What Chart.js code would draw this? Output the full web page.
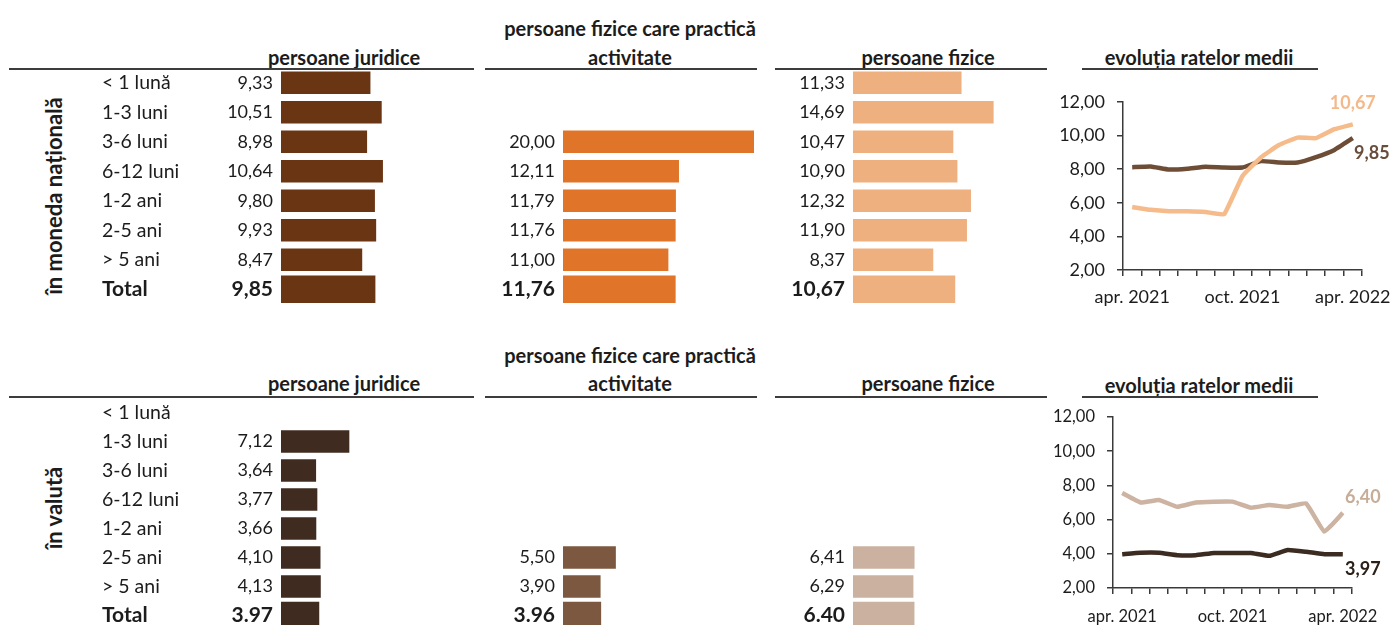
<!DOCTYPE html>
<html>
<head>
<meta charset="utf-8">
<script src="https://cdn.jsdelivr.net/npm/chart.js@4/dist/chart.umd.min.js"></script>
<style>
  html, body { margin: 0; padding: 0; background: #fff; overflow: hidden; }
  #wrap { position: relative; width: 1395px; height: 625px; overflow: hidden; font-family: Lato, "Open Sans", sans-serif; color: #1c1c1c; }
  canvas { position: absolute; }
  .hdr { position: absolute; width: 340px; margin-left: -170px; margin-top: -12px; line-height: 24px; text-align: center; font-weight: bold; font-size: 20px; white-space: nowrap; }
  .rule { position: absolute; height: 2px; background: #3c3c3c; }
  .side { position: absolute; font-weight: bold; font-size: 22px; white-space: nowrap; transform: translate(-50%, -50%) rotate(-90deg); }
</style>
</head>
<body>
<div id="wrap">
  <!-- sectiunea MDL -->
  <div class="hdr" style="left:344px;top:57px">persoane juridice</div>
  <div class="hdr" style="left:630px;top:28px">persoane fizice care practică</div>
  <div class="hdr" style="left:630px;top:57px">activitate</div>
  <div class="hdr" style="left:928px;top:57px">persoane fizice</div>
  <div class="hdr" style="left:1199px;top:57px">evoluția ratelor medii</div>
  <div class="rule" style="left:9px;width:465px;top:68px"></div>
  <div class="rule" style="left:485px;width:272px;top:68px"></div>
  <div class="rule" style="left:775px;width:272px;top:68px"></div>
  <div class="rule" style="left:1082px;width:236px;top:68px"></div>
  <div class="side" style="left:53px;top:196px">în moneda națională</div>

  <!-- sectiunea valuta -->
  <div class="hdr" style="left:344px;top:383px">persoane juridice</div>
  <div class="hdr" style="left:630px;top:355px">persoane fizice care practică</div>
  <div class="hdr" style="left:630px;top:383px">activitate</div>
  <div class="hdr" style="left:928px;top:383px">persoane fizice</div>
  <div class="hdr" style="left:1199px;top:385px">evoluția ratelor medii</div>
  <div class="rule" style="left:9px;width:465px;top:396px"></div>
  <div class="rule" style="left:485px;width:272px;top:396px"></div>
  <div class="rule" style="left:775px;width:272px;top:396px"></div>
  <div class="rule" style="left:1082px;width:236px;top:396px"></div>
  <div class="side" style="left:53px;top:508px">în valută</div>

  <canvas id="mdl-jur" width="370" height="236" style="left:102px;top:68px"></canvas>
  <canvas id="mdl-act" width="274" height="236" style="left:480px;top:68px"></canvas>
  <canvas id="mdl-fiz" width="274" height="236" style="left:770px;top:68px"></canvas>
  <canvas id="mdl-evol" width="355" height="220" style="left:1040px;top:90px"></canvas>

  <canvas id="val-jur" width="370" height="232" style="left:102px;top:398px"></canvas>
  <canvas id="val-act" width="274" height="232" style="left:480px;top:398px"></canvas>
  <canvas id="val-fiz" width="274" height="232" style="left:770px;top:398px"></canvas>
  <canvas id="val-evol" width="355" height="225" style="left:1030px;top:400px"></canvas>
</div>

<script>
// termene de scadenta
const termene = ["< 1 lună", "1-3 luni", "3-6 luni", "6-12 luni", "1-2 ani", "2-5 ani", "> 5 ani", "Total"];

// rate medii, moneda nationala (%)
const mdlJuridice   = [9.33, 10.51, 8.98, 10.64, 9.80, 9.93, 8.47, 9.85];
const mdlActivitate = [null, null, 20.00, 12.11, 11.79, 11.76, 11.00, 11.76];
const mdlFizice     = [11.33, 14.69, 10.47, 10.90, 12.32, 11.90, 8.37, 10.67];

// rate medii, valuta (%)
const valJuridice   = [null, 7.12, 3.64, 3.77, 3.66, 4.10, 4.13, 3.97];
const valActivitate = [null, null, null, null, null, 5.50, 3.90, 3.96];
const valFizice     = [null, null, null, null, null, 6.41, 6.29, 6.40];

// evolutia ratelor medii, apr. 2021 - apr. 2022
const luni = ["apr. 2021", "mai 2021", "iun. 2021", "iul. 2021", "aug. 2021", "sept. 2021", "oct. 2021",
              "nov. 2021", "dec. 2021", "ian. 2022", "febr. 2022", "mar. 2022", "apr. 2022"];
const evolMdlJuridice = [8.12, 8.16, 7.98, 8.03, 8.15, 8.10, 8.10, 8.48, 8.40, 8.40, 8.72, 9.15, 9.85];
const evolMdlFizice   = [5.75, 5.58, 5.50, 5.50, 5.45, 5.32, 7.60, 8.70, 9.45, 9.88, 9.85, 10.38, 10.67];
const evolValJuridice = [3.98, 4.06, 4.06, 3.92, 3.92, 4.05, 4.05, 4.05, 3.88, 4.22, 4.12, 3.98, 3.97];
const evolValFizice   = [7.55, 7.00, 7.15, 6.75, 7.00, 7.05, 7.05, 6.70, 6.85, 6.75, 6.95, 5.30, 6.40];

const FONT = 'Lato, "Open Sans", sans-serif';
const TEXT = "#1c1c1c";
const AXIS = "#3a3a3a";

const fmt = (v, sep) => v.toFixed(2).replace(".", sep);
const last = termene.length - 1;

// fara spatiu suplimentar sus/jos pentru etichete, ca randurile sa umple zona
const noVertPad = s => { s.paddingTop = 0; s.paddingBottom = 0; };

function barChart(id, values, color, opts) {
  const rows  = values.map((v, i) => (i === last ? null : v));
  const total = values.map((v, i) => (i === last ? v : null));
  const valueLabels = values.map((v, i) => (v == null ? "" : fmt(v, i === last ? opts.totalSep : ",")));

  const scales = {
    y: {
      type: "category",
      labels: valueLabels,
      position: "left",
      weight: 0,
      offset: true,
      grid: { display: false, drawTicks: false },
      border: { display: false },
      ticks: {
        autoSkip: false,
        padding: 8,
        color: TEXT,
        font: c => (c.index === last ? { family: FONT, size: 21, weight: "bold" } : { family: FONT, size: 18 })
      },
      afterFit: s => { s.width = opts.names ? 90 : 83; noVertPad(s); }
    },
    x: { type: "linear", display: false, min: 0, max: 20 }
  };
  if (opts.names) {
    scales.nume = {
      type: "category",
      labels: termene,
      position: "left",
      weight: 1,
      offset: true,
      grid: { display: false, drawTicks: false },
      border: { display: false },
      ticks: {
        autoSkip: false,
        crossAlign: "far",
        color: TEXT,
        font: c => (c.index === last ? { family: FONT, size: 21, weight: "bold" } : { family: FONT, size: 19.5 })
      },
      afterFit: s => { s.width = 89; noVertPad(s); }
    };
  }

  new Chart(document.getElementById(id), {
    type: "bar",
    data: {
      datasets: [
        { data: rows, yAxisID: "y", backgroundColor: color, barThickness: 22, grouped: false },
        { data: total, yAxisID: "y", backgroundColor: color, barThickness: 27, grouped: false }
      ]
    },
    options: {
      indexAxis: "y",
      responsive: false,
      animation: false,
      layout: { padding: 0 },
      plugins: { legend: { display: false }, tooltip: { enabled: false } },
      scales: scales
    }
  });
}

// eticheta valorii finale langa fiecare linie
const endLabels = {
  id: "endLabels",
  afterDatasetsDraw(chart) {
    const ctx = chart.ctx;
    chart.data.datasets.forEach((ds, i) => {
      const lbl = ds.endLabel;
      if (!lbl) return;
      const pts = chart.getDatasetMeta(i).data;
      const p = pts[pts.length - 1];
      ctx.save();
      ctx.font = "bold 18px " + FONT;
      ctx.fillStyle = lbl.color;
      ctx.textAlign = "center";
      ctx.textBaseline = "middle";
      ctx.fillText(fmt(ds.data[ds.data.length - 1], ","), p.x + lbl.dx, p.y + lbl.dy);
      ctx.restore();
    });
  }
};

function lineChart(id, series, cfg) {
  const tickFont = { family: FONT, size: cfg.fontSize };
  new Chart(document.getElementById(id), {
    type: "line",
    data: {
      labels: luni,
      datasets: series.map(s => ({
        data: s.data,
        borderColor: s.color,
        borderWidth: 4.5,
        pointRadius: 0,
        tension: 0.1,
        endLabel: s.label
      }))
    },
    options: {
      responsive: false,
      animation: false,
      layout: { padding: { top: cfg.padTop, right: 33, left: 0, bottom: 0 } },
      plugins: { legend: { display: false }, tooltip: { enabled: false } },
      scales: {
        x: {
          offset: true,
          grid: { offset: true, drawOnChartArea: false, drawTicks: true, tickLength: 6, color: AXIS, lineWidth: 1.5 },
          border: { color: AXIS, width: 1.5 },
          ticks: {
            autoSkip: false,
            maxRotation: 0,
            padding: cfg.xPad,
            color: TEXT,
            font: tickFont,
            callback: (v, i) => (i % 6 === 0 ? luni[i] : "")
          },
          afterFit: s => { s.height = cfg.xHeight; s.paddingRight = 0; s.paddingLeft = 0; }
        },
        y: {
          min: 2,
          max: 12,
          grid: { drawOnChartArea: false, drawTicks: true, tickLength: 6, color: AXIS, lineWidth: 1.5 },
          border: { color: AXIS, width: 1.5 },
          ticks: { stepSize: 2, padding: 12, color: TEXT, font: tickFont, callback: v => fmt(v, ",") },
          afterFit: s => { s.width = 83; noVertPad(s); }
        }
      }
    },
    plugins: [endLabels]
  });
}

barChart("mdl-jur", mdlJuridice, "#6a3513", { names: true, totalSep: "," });
barChart("mdl-act", mdlActivitate, "#e0752a", { totalSep: "," });
barChart("mdl-fiz", mdlFizice, "#efb07f", { totalSep: "," });

barChart("val-jur", valJuridice, "#3f2b20", { names: true, totalSep: "." });
barChart("val-act", valActivitate, "#7d5840", { totalSep: "." });
barChart("val-fiz", valFizice, "#cbb2a0", { totalSep: "." });

lineChart("mdl-evol", [
  { data: evolMdlFizice, color: "#f5bb8b", label: { color: "#f4b98a", dx: 0, dy: -21 } },
  { data: evolMdlJuridice, color: "#6e4d37", label: { color: "#6a4e3c", dx: 19, dy: 15 } }
], { padTop: 12, xHeight: 40, xPad: 10, fontSize: 18 });

lineChart("val-evol", [
  { data: evolValFizice, color: "#cdb3a1", label: { color: "#c7ac98", dx: 20, dy: -16 } },
  { data: evolValJuridice, color: "#3b2b20", label: { color: "#2b2018", dx: 20, dy: 15 } }
], { padTop: 17, xHeight: 37, xPad: 13, fontSize: 16.5 });
</script>
</body>
</html>
